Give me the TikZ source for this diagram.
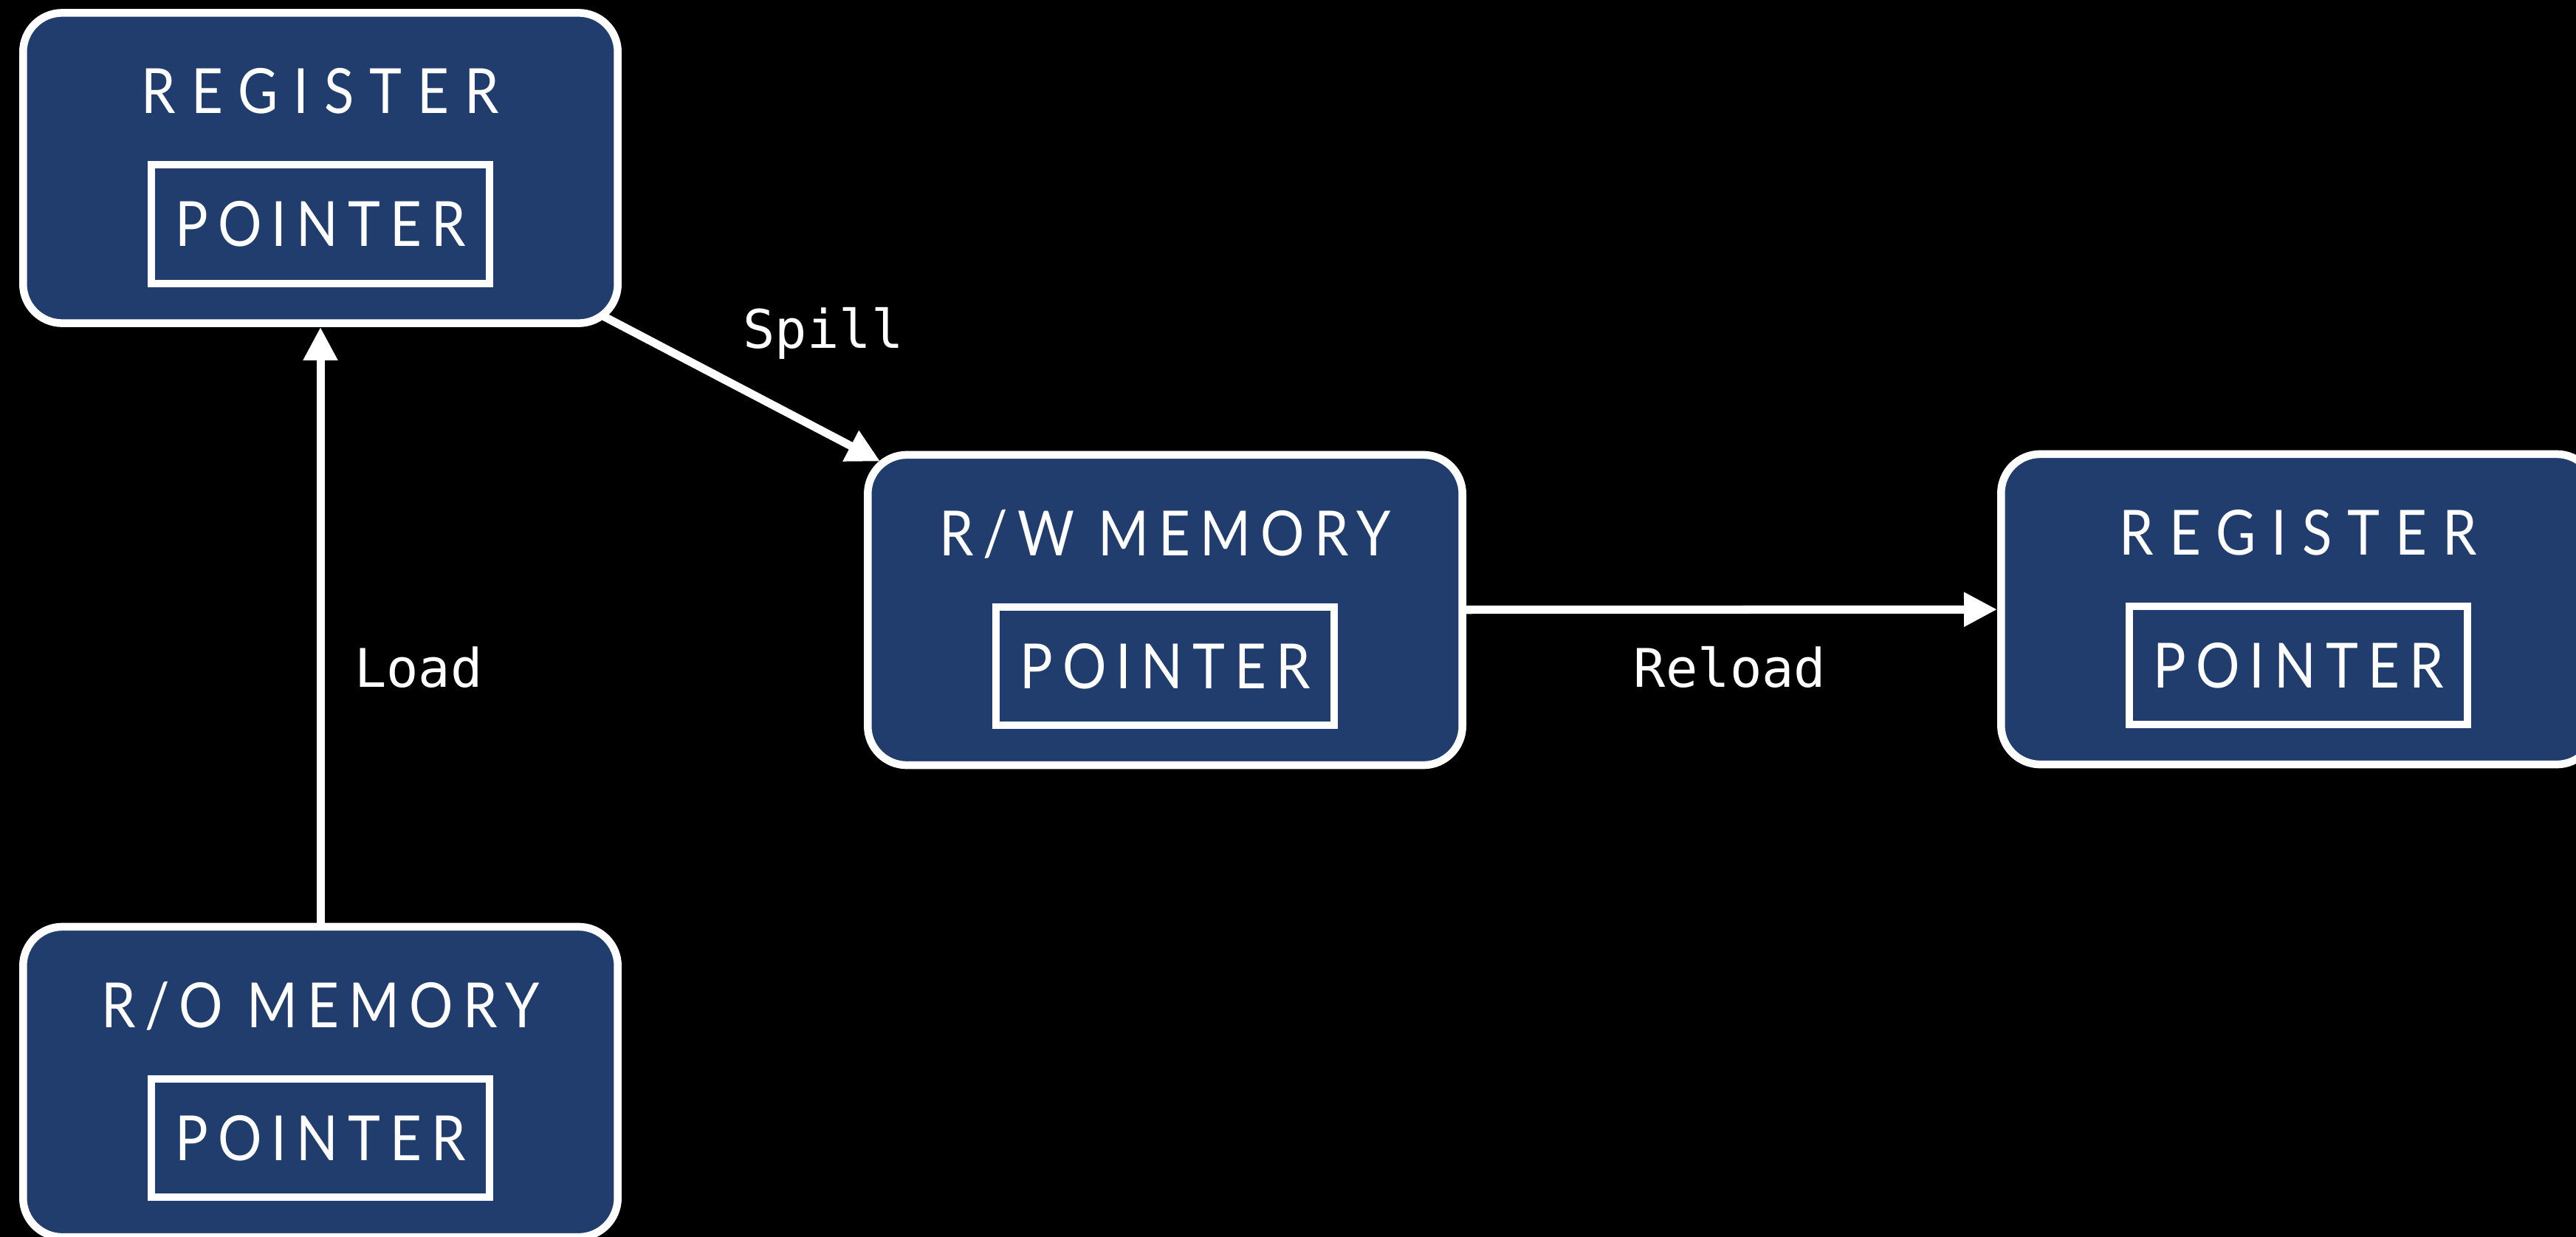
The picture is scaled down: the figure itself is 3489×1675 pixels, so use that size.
\documentclass[tikz,border=0pt]{standalone}
\usepackage{fontspec}
\usetikzlibrary{arrows.meta,calc}
% spaced capitals: wider tracking for the register titles
\newfontfamily\regcaps[FakeStretch=0.88, LetterSpace=25]{Lato}
\newfontfamily\memcaps[FakeStretch=0.88, LetterSpace=15.5]{Lato}
\newfontfamily\codefont{DejaVu Sans Mono}
\definecolor{boxblue}{RGB}{32,61,110}

\begin{document}
\begin{tikzpicture}[x=0.01cm,y=-0.01cm,
  membox/.style={draw=white, fill=boxblue, line width=1.05mm, rounded corners=5.3mm,
    minimum width=80.5mm, minimum height=42mm, inner sep=0pt},
  ptrbox/.style={draw=white, fill=boxblue, line width=1.0mm,
    minimum width=45.8mm, minimum height=16mm, inner sep=0pt,
    text=white, font=\memcaps\fontsize{24}{28}\selectfont},
  regtitle/.style={text=white, anchor=base, inner sep=0pt,
    font=\regcaps\fontsize{24}{28}\selectfont},
  memtitle/.style={text=white, anchor=base, inner sep=0pt,
    font=\memcaps\fontsize{24}{28}\selectfont},
  conn/.style={draw=white, line width=1.1mm, -{Triangle[length=4.5mm,width=4.4mm]}},
  lbl/.style={text=white, anchor=base, inner sep=0pt,
    font=\codefont\fontsize{20.5}{24}\selectfont}
]
% canvas
\fill[black] (0,0) rectangle (3489,1675);
\useasboundingbox (0,0) rectangle (3489,1675);

% memory / register boxes
\node[membox] (regA) at (434,227.5) {};
\node[membox] (rwmem) at (1578,826) {};
\node[membox] (regB) at (3113,825) {};
\node[membox] (romem) at (434,1465) {};

% titles
\node[regtitle] (regAt)  at ($(regA)+(0,-74)$)  {REGISTER};
\node[memtitle] (rwmemt) at ($(rwmem)+(0,-74)$) {R/W MEMORY};
\node[regtitle] (regBt)  at ($(regB)+(0,-74)$)  {REGISTER};
\node[memtitle] (romemt) at ($(romem)+(0,-74)$) {R/O MEMORY};

% pointer slots
\node[ptrbox] (regAp)  at ($(regA)+(0,76)$)  {POINTER};
\node[ptrbox] (rwmemp) at ($(rwmem)+(0,76)$) {POINTER};
\node[ptrbox] (regBp)  at ($(regB)+(0,76)$)  {POINTER};
\node[ptrbox] (romemp) at ($(romem)+(0,76)$) {POINTER};

% transitions
\draw[conn, shorten <=-3.2mm, shorten >=-2.5mm] (regA) -- (rwmem);
\draw[conn] (romem) -- (regA);
\draw[conn] (rwmem) -- (regB);

% transition labels
\node[lbl] (spill)  at (1115,471) {Spill};
\node[lbl] (load)   at (567,930)  {Load};
\node[lbl] (reload) at (2343,930) {Reload};
\end{tikzpicture}
\end{document}
